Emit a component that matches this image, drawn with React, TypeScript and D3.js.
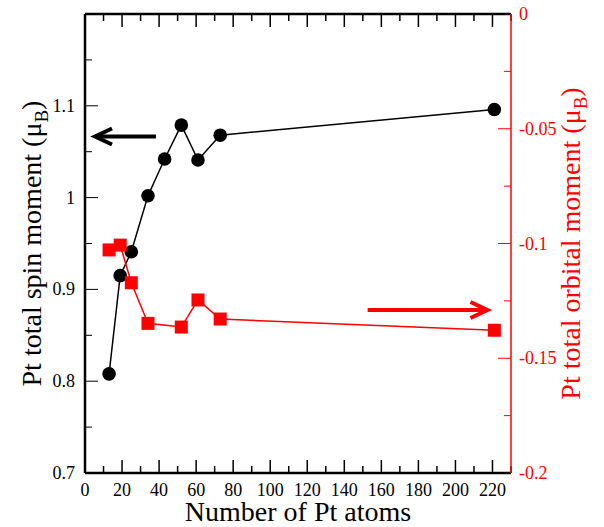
import React from "react";
import * as d3 from "d3";

const atomsSpin = [13, 19, 25, 34, 43, 52, 61, 73, 221];
const spinMoment = [0.808, 0.915, 0.941, 1.002, 1.042, 1.079, 1.041, 1.068, 1.096];
const atomsOrb = [13, 19, 25, 34, 52, 61, 73, 221];
const orbMoment = [-0.1028, -0.1007, -0.1171, -0.1348, -0.1364, -0.1246, -0.1329, -0.1378];
const xTicks = [0, 20, 40, 60, 80, 100, 120, 140, 160, 180, 200, 220];
const leftTicks = [0.7, 0.8, 0.9, 1, 1.1];
const rightTicks = [0, -0.05, -0.1, -0.15, -0.2];

const W = 604;
const H = 527;
const FONT = "Times New Roman";

const left = 85, right = 511, top = 14, bottom = 473;
const x = d3.scaleLinear().domain([0, 230]).range([left, right]);
const yL = d3.scaleLinear().domain([0.7, 1.2]).range([bottom, top]);
const yR = d3.scaleLinear().domain([-0.2, 0]).range([bottom, top]);

function Arrow({ x1, x2, y, color }: { x1: number; x2: number; y: number; color: string }) {
  const dir = Math.sign(x2 - x1);
  return (
    <g>
      <line x1={x1} x2={x2 - dir * 2} y1={y} y2={y} stroke={color} strokeWidth={4} />
      <path d={`M${x2 - dir * 17},${y - 8} L${x2},${y} L${x2 - dir * 17},${y + 8}`}
        fill="none" stroke={color} strokeWidth={4} />
    </g>
  );
}

function App() {
  const spin = atomsSpin.map((a, i) => [a, spinMoment[i]]);
  const orb = atomsOrb.map((a, i) => [a, orbMoment[i]]);
  const lineL = d3.line<number[]>().x((d) => x(d[0])).y((d) => yL(d[1]));
  const lineR = d3.line<number[]>().x((d) => x(d[0])).y((d) => yR(d[1]));
  const xMinor = d3.range(0, 231, 10);
  const lMinor = d3.range(0, 11).map((i) => 0.7 + i * 0.05);
  const rMinor = d3.range(0, 9).map((i) => -0.2 + i * 0.025);
  const cy = (top + bottom) / 2;
  const ts = { fontFamily: FONT };

  return (
    <svg width={W} height={H} style={{ position: "absolute", left: 0, top: 0, fontFamily: FONT }}>
      {xMinor.map((v) => {
        const len = v % 20 === 0 ? 13 : 7;
        return (
          <g key={"xt" + v}>
            <line x1={x(v)} x2={x(v)} y1={bottom} y2={bottom - len} stroke="#000" strokeWidth={1.5} />
            <line x1={x(v)} x2={x(v)} y1={top} y2={top + len} stroke="#000" strokeWidth={1.5} />
          </g>
        );
      })}
      {lMinor.map((v, i) => (
        <line key={"lt" + i} x1={left} x2={left + (i % 2 === 0 ? 13 : 7)} y1={yL(v)} y2={yL(v)}
          stroke="#000" strokeWidth={1} />
      ))}
      {rMinor.map((v, i) => (
        <line key={"rt" + i} x1={right} x2={right - (i % 2 === 0 ? 13 : 7)} y1={yR(v)} y2={yR(v)}
          stroke="red" strokeWidth={1} />
      ))}

      <line x1={left} x2={right} y1={bottom} y2={bottom} stroke="#000" strokeWidth={2.5} />
      <line x1={left} x2={right} y1={top} y2={top} stroke="#000" strokeWidth={2.5} />
      <line x1={left} x2={left} y1={top} y2={bottom} stroke="#000" strokeWidth={2.5} />
      <line x1={right} x2={right} y1={top} y2={bottom} stroke="red" strokeWidth={1.5} />

      {xTicks.map((d) => (
        <text key={"xl" + d} x={x(d)} y={bottom + 23} textAnchor="middle" fontSize={18} style={ts}>
          {d}
        </text>
      ))}
      {leftTicks.map((d) => (
        <text key={"ll" + d} x={left - 10} y={yL(d) + 6} textAnchor="end" fontSize={18} style={ts}>
          {String(d)}
        </text>
      ))}
      {rightTicks.map((d) => (
        <text key={"rl" + d} x={right + 8} y={yR(d) + 6} fill="red" fontSize={18} style={ts}>
          {String(d)}
        </text>
      ))}

      <text x={(left + right) / 2} y={521} textAnchor="middle" fontSize={28} style={ts}>
        Number of Pt atoms
      </text>
      <text transform={`translate(41,${cy}) rotate(-90)`} textAnchor="middle" fontSize={28} style={ts}>
        <tspan>Pt total spin moment (μ</tspan>
        <tspan fontSize={19} dy={7}>B</tspan>
        <tspan dy={-7}>)</tspan>
      </text>
      <text transform={`translate(580,${cy}) rotate(-90)`} textAnchor="middle" fontSize={28}
        style={ts} fill="red">
        <tspan>Pt total orbital moment (μ</tspan>
        <tspan fontSize={19} dy={7}>B</tspan>
        <tspan dy={-7}>)</tspan>
      </text>

      <path d={lineL(spin) || ""} fill="none" stroke="#000" strokeWidth={1.5} />
      {spin.map((d, i) => (
        <circle key={"sp" + i} cx={x(d[0])} cy={yL(d[1])} r={6.8} fill="#000" />
      ))}

      <path d={lineR(orb) || ""} fill="none" stroke="red" strokeWidth={1.5} />
      {orb.map((d, i) => (
        <rect key={"ob" + i} x={x(d[0]) - 6.5} y={yR(d[1]) - 6.5} width={13} height={13} fill="red" />
      ))}

      <Arrow x1={x(38.3)} x2={x(5.4)} y={yL(1.0666)} color="#000" />
      <Arrow x1={x(152.6)} x2={x(217.3)} y={yR(-0.129)} color="red" />
    </svg>
  );
}

export default App;
